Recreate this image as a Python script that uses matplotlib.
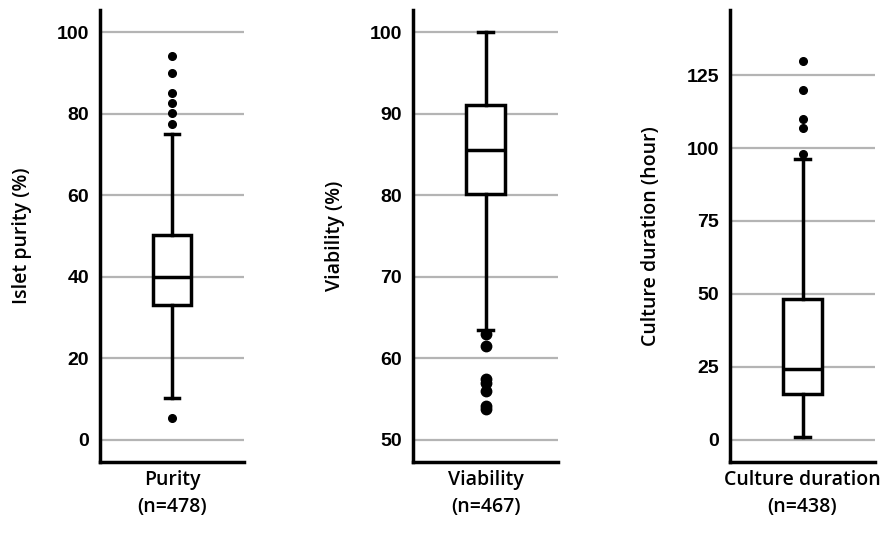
import matplotlib
matplotlib.use("Agg")
import matplotlib.pyplot as plt
from matplotlib.ticker import FixedLocator

# ---- data (summary statistics) ----
panel_names = ["Purity\n(n=478)", "Viability\n(n=467)", "Culture duration\n(n=438)"]
y_labels = ["Islet purity (%)", "Viability (%)", "Culture duration (hour)"]

purity_stats = dict(q1=32.9, med=40.0, q3=50.1, whislo=10.2, whishi=75.0)
purity_fliers = [94.1, 90.0, 85.1, 82.6, 80.1, 77.5, 5.2]

viability_stats = dict(q1=80.1, med=85.5, q3=91.0, whislo=63.5, whishi=100.0)
viability_fliers = [63.0, 61.5, 57.5, 57.0, 56.0, 54.2, 53.8]

culture_stats = dict(q1=15.6, med=24.1, q3=48.1, whislo=0.8, whishi=96.1)
culture_fliers = [129.8, 119.8, 109.9, 106.9, 98.0]

purity_ticks = [0, 20, 40, 60, 80, 100]
viability_ticks = [50, 60, 70, 80, 90, 100]
culture_ticks = [0, 25, 50, 75, 100, 125]

ylims = [(-5.5, 105.4), (47.3, 102.7), (-7.6, 147.3)]
flier_sizes = [5.5, 7.5, 5.5]

stats_list = [purity_stats, viability_stats, culture_stats]
fliers_list = [purity_fliers, viability_fliers, culture_fliers]
ticks_list = [purity_ticks, viability_ticks, culture_ticks]

# ---- layout ----
W, H = 882, 547
fig = plt.figure(figsize=(W / 100, H / 100), dpi=100)
lefts_px = [100, 413.3, 730]
widths_px = [144, 144.5, 145]
top_px, bottom_px = 10, 462

tick_font = dict(family=["Liberation Sans", "DejaVu Sans"], weight="bold", size=14)
label_font = dict(family=["Open Sans", "DejaVu Sans"], weight="semibold", size=14)

for i in range(3):
    ax = fig.add_axes([lefts_px[i] / W, 1 - bottom_px / H,
                       widths_px[i] / W, (bottom_px - top_px) / H])
    st = dict(stats_list[i])
    st["fliers"] = fliers_list[i]
    st["label"] = panel_names[i]
    lw = 2.5
    ax.bxp([st], positions=[1], widths=0.265, capwidths=0.1,
           patch_artist=True, showfliers=True,
           boxprops=dict(facecolor="white", edgecolor="black", linewidth=lw),
           medianprops=dict(color="black", linewidth=lw),
           whiskerprops=dict(color="black", linewidth=lw),
           capprops=dict(color="black", linewidth=lw),
           flierprops=dict(marker="o", markerfacecolor="black",
                           markeredgecolor="black", markersize=flier_sizes[i]),
           zorder=3)
    ax.set_xlim(0.5, 1.5)
    ax.set_ylim(*ylims[i])
    ax.yaxis.set_major_locator(FixedLocator(ticks_list[i]))
    ax.set_yticklabels([str(t) for t in ticks_list[i]], fontdict=tick_font)
    ax.set_xticks([1])
    ax.set_xticklabels([panel_names[i]], fontdict=label_font, linespacing=1.45)
    ax.tick_params(axis="both", length=0)
    ax.tick_params(axis="y", pad=8)
    ax.tick_params(axis="x", pad=6)
    ax.yaxis.grid(True, color="#b4b4b4", linewidth=1.6, zorder=0)
    ax.set_axisbelow(True)
    for s in ["top", "right"]:
        ax.spines[s].set_visible(False)
    for s in ["left", "bottom"]:
        ax.spines[s].set_linewidth(2.5)
        ax.spines[s].set_color("black")
    ax.set_ylabel(y_labels[i], fontdict=label_font, labelpad=18)

fig.savefig("out.png", dpi=100, facecolor="white")
